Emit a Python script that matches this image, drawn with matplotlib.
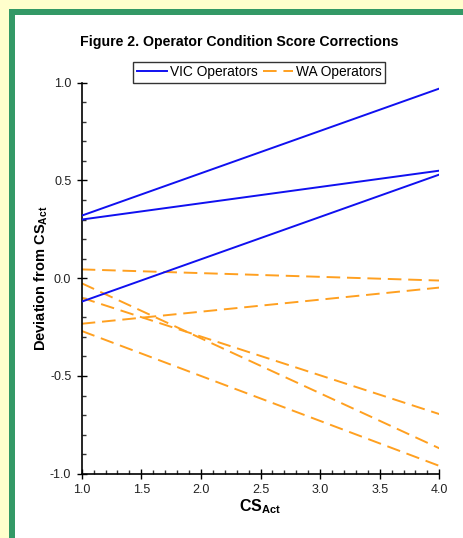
import numpy as np
import matplotlib.pyplot as plt
from matplotlib.patches import Rectangle
from matplotlib.ticker import MultipleLocator

plt.rcParams['font.family'] = ['Liberation Sans', 'DejaVu Sans']
plt.rcParams['mathtext.fontset'] = 'custom'
plt.rcParams['mathtext.rm'] = 'Liberation Sans'
plt.rcParams['mathtext.bf'] = 'Liberation Sans:bold'

# each correction line runs from CS_Act = 1.0 to CS_Act = 4.0
cs_act = [1.0, 4.0]
vic_lines = [
    [0.32, 0.97],
    [0.30, 0.55],
    [-0.12, 0.53],
]
wa_lines = [
    [0.045, -0.012],
    [-0.026, -0.87],
    [-0.10, -0.695],
    [-0.233, -0.048],
    [-0.27, -0.96],
]

W, H = 463, 538
fig = plt.figure(figsize=(W / 100, H / 100), dpi=100, facecolor='white')

# page background: yellow margin and green frame on top/left
yellow = '#FFFFCC'
green = '#339966'
fig.patches.append(Rectangle((0, 1 - 9 / H), 1, 9 / H, transform=fig.transFigure,
                             facecolor=yellow, edgecolor='none', zorder=-2))
fig.patches.append(Rectangle((0, 0), 9 / W, 1, transform=fig.transFigure,
                             facecolor=yellow, edgecolor='none', zorder=-2))
fig.patches.append(Rectangle((9 / W, 1 - 15 / H), 1 - 9 / W, 6 / H, transform=fig.transFigure,
                             facecolor=green, edgecolor='none', zorder=-1))
fig.patches.append(Rectangle((9 / W, 0), 6 / W, 1 - 9 / H, transform=fig.transFigure,
                             facecolor=green, edgecolor='none', zorder=-1))

ax = fig.add_axes([81.7 / W, 64.3 / H, 357.6 / W, 391 / H])
ax.set_facecolor('white')

for i, ys in enumerate(vic_lines):
    ax.plot(cs_act, ys, color='#1010F0', lw=1.4,
            label='VIC Operators' if i == 0 else None, zorder=3)
for i, ys in enumerate(wa_lines):
    ax.plot(cs_act, ys, color='#FFA020', lw=1.4, dashes=(7, 3.5),
            label='WA Operators' if i == 0 else None, zorder=2)

ax.set_xlim(1.0, 4.0)
ax.set_ylim(-1.0, 1.0)
ax.xaxis.set_major_locator(MultipleLocator(0.5))
ax.xaxis.set_minor_locator(MultipleLocator(0.1))
ax.yaxis.set_major_locator(MultipleLocator(0.5))
ax.yaxis.set_minor_locator(MultipleLocator(0.1))
ax.xaxis.set_major_formatter(plt.FormatStrFormatter('%.1f'))
ax.yaxis.set_major_formatter(plt.FormatStrFormatter('%.1f'))
ax.tick_params(which='major', direction='inout', length=7, width=1, labelsize=9,
               colors='black', labelcolor='#222222', pad=4)
ax.tick_params(which='minor', direction='in', length=3, width=1, color='#333333')

for s in ['top', 'right']:
    ax.spines[s].set_visible(False)
for s in ['left', 'bottom']:
    ax.spines[s].set_linewidth(1.2)

ax.set_xlabel(r'CS$_{\mathbf{Act}}$', fontsize=11.5, fontweight='bold', labelpad=1)
ax.set_ylabel(r'Deviation from CS$_{\mathbf{Act}}$', fontsize=10.5, fontweight='bold', labelpad=0)

fig.text(239 / W, 1 - 42 / H, 'Figure 2. Operator Condition Score Corrections',
         ha='center', va='center', fontsize=10.2, fontweight='bold')

leg = ax.legend(loc='lower center', bbox_to_anchor=(0.497, 1.0), ncol=2, frameon=True,
                fancybox=False, fontsize=9.9, handlelength=2.2, handletextpad=0.2,
                columnspacing=0.4, borderpad=0.25, borderaxespad=0)
leg.get_frame().set_edgecolor('black')
leg.get_frame().set_linewidth(1.0)

fig.savefig('out.png', dpi=100, facecolor=fig.get_facecolor())
